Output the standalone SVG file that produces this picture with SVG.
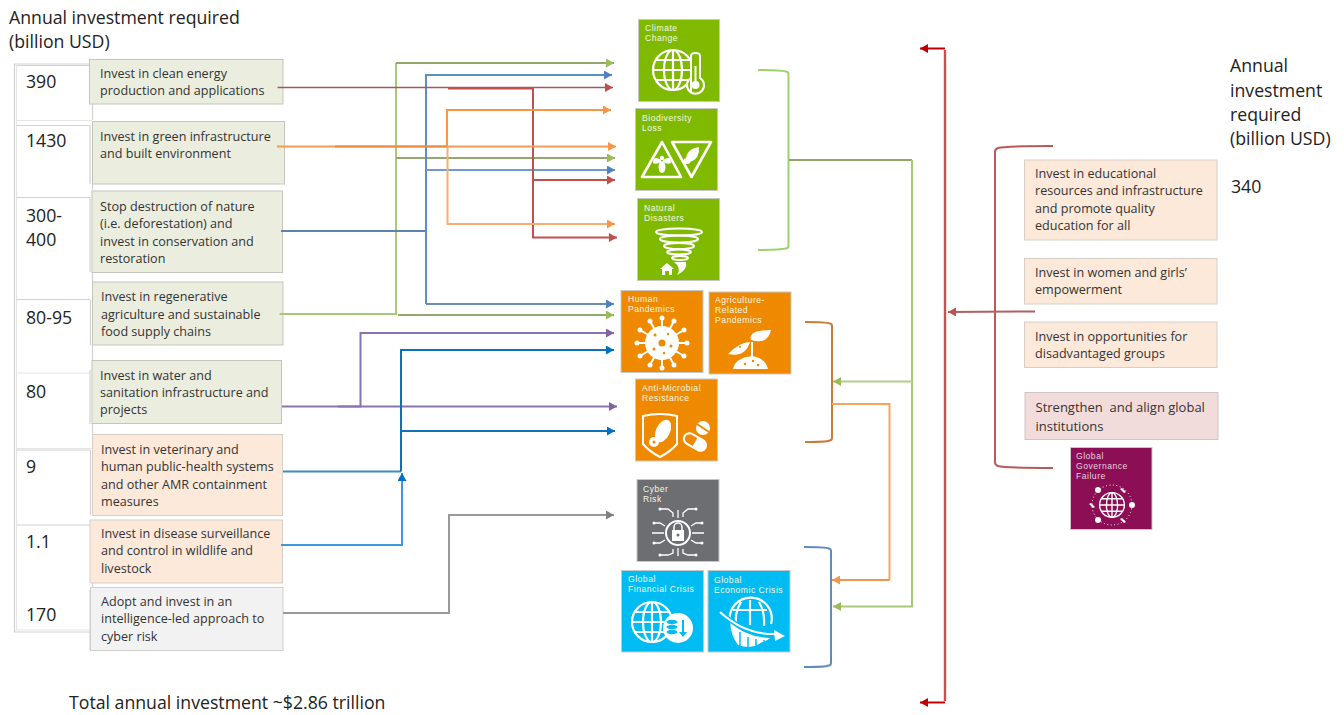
<svg xmlns="http://www.w3.org/2000/svg" width="1344" height="715" viewBox="0 0 1344 715">
<style>
text{font-family:"Open Sans","Liberation Sans",sans-serif;fill:#333}
.h{font-size:17.7px;fill:#222}
.n{font-size:17.7px;fill:#222}
.b{font-size:12.6px;fill:#333}
.g{fill:#EBEEDF;stroke:#c4c6bc;stroke-width:1}
.o{fill:#FDE9DA;stroke:#d6cfc8;stroke-width:1}
.p{fill:#F2DCDB;stroke:#cfc4c4;stroke-width:1}
.y{fill:#F2F2F2;stroke:#d0d0d0;stroke-width:1}
text.t{font-family:"Liberation Sans",Arial,sans-serif;font-size:8.6px;fill:#f2f8e4;letter-spacing:.5px}
.i{fill:none;stroke:#fff;stroke-width:2}
.w{fill:#fff;stroke:none}
.c{fill:none;stroke-width:2}
.tb{fill:none;stroke:#d2d2d2;stroke-width:1.2}
.tl{fill:none;stroke:#e6e6e6;stroke-width:1.2}
.sq{stroke:#c8c8c8;stroke-width:1}
</style>
<defs>
<marker id="ag" markerUnits="userSpaceOnUse" markerWidth="9" markerHeight="9" refX="8" refY="4.5" orient="auto"><path d="M0 0L8 4.5L0 9Z" fill="#9BBB59"/></marker>
<marker id="ab" markerUnits="userSpaceOnUse" markerWidth="9" markerHeight="9" refX="8" refY="4.5" orient="auto"><path d="M0 0L8 4.5L0 9Z" fill="#4F81BD"/></marker>
<marker id="ar" markerUnits="userSpaceOnUse" markerWidth="9" markerHeight="9" refX="8" refY="4.5" orient="auto"><path d="M0 0L8 4.5L0 9Z" fill="#C0504D"/></marker>
<marker id="ao" markerUnits="userSpaceOnUse" markerWidth="9" markerHeight="9" refX="8" refY="4.5" orient="auto"><path d="M0 0L8 4.5L0 9Z" fill="#F79646"/></marker>
<marker id="ap" markerUnits="userSpaceOnUse" markerWidth="9" markerHeight="9" refX="8" refY="4.5" orient="auto"><path d="M0 0L8 4.5L0 9Z" fill="#8064A2"/></marker>
<marker id="ad" markerUnits="userSpaceOnUse" markerWidth="9" markerHeight="9" refX="8" refY="4.5" orient="auto"><path d="M0 0L8 4.5L0 9Z" fill="#0070C0"/></marker>
<marker id="ay" markerUnits="userSpaceOnUse" markerWidth="9" markerHeight="9" refX="8" refY="4.5" orient="auto"><path d="M0 0L8 4.5L0 9Z" fill="#808080"/></marker>
<marker id="ac" markerUnits="userSpaceOnUse" markerWidth="9" markerHeight="9" refX="8" refY="4.5" orient="auto"><path d="M0 0L8 4.5L0 9Z" fill="#C00000"/></marker>
<g id="globe" fill="none" stroke="#fff" stroke-width="2.200">
<circle r="20"/><ellipse rx="9" ry="20"/><path d="M0-20V20M-20 0H20M-17-10H17M-17 10H17"/>
</g>
</defs>

<g id="headers">
<text class="h" x="9" y="24">Annual investment required</text>
<text class="h" x="9" y="48">(billion USD)</text>
<text class="h" x="1230" y="72">Annual</text>
<text class="h" x="1230" y="97">investment</text>
<text class="h" x="1230" y="121">required</text>
<text class="h" x="1230" y="145">(billion USD)</text>
<text class="h" x="1231" y="193">340</text>
<text class="h" x="69" y="709">Total annual investment ~$2.86 trillion</text>
</g>

<g id="table">
<path class="tb" d="M90 64H14.500V632H90"/>
<path class="tl" d="M16.500 66V630H90M16.500 120.500H92M16.500 373H90M16.500 448.500H92"/>
<path class="tb" d="M16.500 65.500H90M16.500 125.500H90M16.500 197.500H90M16.500 299.500H90M16.500 450H90M16.500 525H90"/>
<path class="tb" d="M90 65V104M90 125V184M90 197V272M90.500 300V345M90 370V424M90.500 450V515M90 590V650M92.500 104V120M92.500 184V190M92.500 272V282M92.500 345V360M92.500 424V434M92.500 583V587"/>
<text class="n" x="26" y="88">390</text>
<text class="n" x="26" y="147">1430</text>
<text class="n" x="26" y="222">300-</text>
<text class="n" x="26" y="246">400</text>
<text class="n" x="26" y="324">80-95</text>
<text class="n" x="26" y="398">80</text>
<text class="n" x="26" y="473">9</text>
<text class="n" x="26" y="548">1.1</text>
<text class="n" x="26" y="621">170</text>
</g>

<g id="box-clean-energy"><rect class="g" x="89.500" y="59.500" width="193.500" height="44.500"/>
<text class="b" x="100" y="78">Invest in clean energy</text><text class="b" x="100" y="95">production and applications</text></g>
<g id="box-green-infra"><rect class="g" x="92.500" y="121.500" width="192" height="62.500"/>
<text class="b" x="100" y="141">Invest in green infrastructure</text><text class="b" x="100" y="158">and built environment</text></g>
<g id="box-nature"><rect class="g" x="92" y="191" width="190.500" height="81.500"/>
<text class="b" x="100" y="211">Stop destruction of nature</text><text class="b" x="100" y="228">(i.e. deforestation) and</text><text class="b" x="100" y="245.500">invest in conservation and</text><text class="b" x="100" y="263">restoration</text></g>
<g id="box-agri"><rect class="g" x="92.500" y="282" width="190.500" height="63"/>
<text class="b" x="101" y="301">Invest in regenerative</text><text class="b" x="101" y="318.500">agriculture and sustainable</text><text class="b" x="101" y="336">food supply chains</text></g>
<g id="box-water"><rect class="g" x="92" y="360.500" width="189.500" height="63"/>
<text class="b" x="100" y="380">Invest in water and</text><text class="b" x="100" y="397">sanitation infrastructure and</text><text class="b" x="100" y="414">projects</text></g>
<g id="box-veterinary"><rect class="o" x="92.500" y="434.500" width="190" height="81"/>
<text class="b" x="101" y="454">Invest in veterinary and</text><text class="b" x="101" y="471">human public-health systems</text><text class="b" x="101" y="488.500">and other AMR containment</text><text class="b" x="101" y="506">measures</text></g>
<g id="box-surveillance"><rect class="o" x="90" y="520" width="192.500" height="63"/>
<text class="b" x="101" y="538">Invest in disease surveillance</text><text class="b" x="101" y="555">and control in wildlife and</text><text class="b" x="101" y="573">livestock</text></g>
<g id="box-cyber"><rect class="y" x="90.500" y="587.500" width="192.500" height="63"/>
<text class="b" x="101" y="606">Adopt and invest in an</text><text class="b" x="101" y="623">intelligence-led approach to</text><text class="b" x="101" y="641">cyber risk</text></g>

<g id="box-education"><rect class="o" x="1024.500" y="160" width="192.500" height="80"/>
<text class="b" x="1035" y="178">Invest in educational</text><text class="b" x="1035" y="195">resources and infrastructure</text><text class="b" x="1035" y="212.500">and promote quality</text><text class="b" x="1035" y="230">education for all</text></g>
<g id="box-women"><rect class="o" x="1024.500" y="258.500" width="192.500" height="45.500"/>
<text class="b" x="1035" y="277">Invest in women and girls’</text><text class="b" x="1035" y="294">empowerment</text></g>
<g id="box-opportunities"><rect class="o" x="1024.500" y="322" width="192.500" height="45.500"/>
<text class="b" x="1035" y="341">Invest in opportunities for</text><text class="b" x="1035" y="358">disadvantaged groups</text></g>
<g id="box-institutions"><rect class="p" x="1025" y="392.500" width="193" height="47"/>
<text class="b" x="1035.500" y="411.500" style="font-size:13px" xml:space="preserve">Strengthen  and align global</text><text class="b" x="1035.500" y="430.500" style="font-size:13px">institutions</text></g>

<g id="connectors">
<path class="c" stroke="#A9C77A" d="M279.500 314H396V63"/>
<path class="c" stroke="#95A66F" d="M396 63H614" marker-end="url(#ag)"/>
<path class="c" stroke="#95A66F" d="M396 158H615" marker-end="url(#ag)"/>
<path class="c" stroke="#95A66F" d="M398 315H614" marker-end="url(#ag)"/>
<path class="c" stroke="#5B82B0" d="M281 231H426"/>
<path class="c" stroke="#5B8FC9" d="M426 304V75H612" marker-end="url(#ab)"/>
<path class="c" stroke="#6F9BD0" d="M426 170H615" marker-end="url(#ab)"/>
<path class="c" stroke="#6A8DB3" d="M426 304H614" marker-end="url(#ab)"/>
<path class="c" stroke="#A85560" style="stroke-width:1.500" d="M277.500 87.500H613" marker-end="url(#ar)"/>
<path class="c" stroke="#C0504D" d="M448 88.500H533V237.500H617" marker-end="url(#ar)"/>
<path class="c" stroke="#C0504D" d="M533 180H615" marker-end="url(#ar)"/>
<path class="c" stroke="#F79C54" d="M277 146.500H616" marker-end="url(#ao)"/>
<path class="c" stroke="#EE8A40" d="M335 146.500H447"/>
<path class="c" stroke="#F79646" d="M447 146V110H611" marker-end="url(#ao)"/>
<path class="c" stroke="#F9AE70" d="M447.500 146V224H615" marker-end="url(#ao)"/>
<path class="c" stroke="#8E75AE" d="M282 406.500H617" marker-end="url(#ap)"/>
<path class="c" stroke="#8C72AD" d="M338 406.500H360.500V333H614" marker-end="url(#ap)"/>
<path class="c" stroke="#3A8CC8" d="M283 471.500H401"/>
<path class="c" stroke="#0F70B8" d="M401 471.500V350H614" marker-end="url(#ad)"/>
<path class="c" stroke="#0F70B8" d="M401 431H615" marker-end="url(#ad)"/>
<path class="c" stroke="#3F9BD8" d="M281 545H402V473" marker-end="url(#ad)"/>
<path class="c" stroke="#999" d="M283 613H449V515H614" marker-end="url(#ay)"/>
<path class="c" stroke="#A0D070" d="M758 70Q780 70 786 71.500Q788.500 72 788.500 74V246Q788.500 248 786 248.500Q780 250 758 250"/>
<path class="c" stroke="#8FA56A" d="M789 160H912"/>
<path class="c" stroke="#A9C77A" d="M912 160V606.500H833" marker-end="url(#ag)"/>
<path class="c" stroke="#B5CC8E" d="M912 381.500H833" marker-end="url(#ag)"/>
<path class="c" stroke="#C77C3C" d="M805 322Q826 322 830 323.500Q832 324 832 326V438Q832 440 830 440.500Q826 442 805 442"/>
<path class="c" stroke="#F9A45C" d="M832 404H889.500V580"/>
<path class="c" stroke="#EE9350" d="M889.500 580H832" marker-end="url(#ao)"/>
<path class="c" stroke="#5F8BC0" d="M804 547Q825 547 829 548.500Q831 549 831 551V663Q831 665 829 665.500Q825 667 804 667"/>
<path class="c" stroke="#C9504F" d="M945 50V701" style="stroke-width:2.400"/>
<path class="c" stroke="#C00000" d="M945 48.500H920" marker-end="url(#ac)"/>
<path class="c" stroke="#C00000" d="M945 702.500H920" marker-end="url(#ac)"/>
<path class="c" stroke="#B95A58" d="M1053 146Q1005 146 998 148Q995 149 995 152V462Q995 465 998 466Q1005 468 1053 468"/>
<path class="c" stroke="#B0605E" d="M1035 311.500L948 312" marker-end="url(#ar)"/>
</g>

<g id="risk-climate"><rect class="sq" x="638.500" y="19.500" width="81" height="82" fill="#7FBA00"/>
<text class="t" x="645" y="31">Climate</text><text class="t" x="645" y="41">Change</text>
<use href="#globe" x="673" y="70"/>
<path d="M691 92V56Q691 53 695.500 53Q700 53 700 56V78A8.500 8.500 0 1 1 691 78" fill="#7FBA00" stroke="#fff" stroke-width="2"/>
<circle class="w" cx="695.500" cy="85" r="4"/><rect class="w" x="694.500" y="66" width="2" height="18"/>
</g>
<g id="risk-biodiversity"><rect class="sq" x="635.500" y="108.500" width="82" height="82" fill="#7FBA00"/>
<text class="t" x="642" y="121">Biodiversity</text><text class="t" x="642" y="131">Loss</text>
<path class="i" style="stroke-width:2.600" d="M662 142L681 177H642Z" stroke-linejoin="round"/>
<path class="i" style="stroke-width:2.600" d="M672 142H711L691.500 177Z" stroke-linejoin="round"/>
<ellipse class="w" cx="662" cy="167" rx="3.500" ry="6"/><circle class="w" cx="662" cy="158" r="2.200"/><path class="w" d="M661 160Q653 155 653 163Q656 165 661 162ZM663 160Q671 155 671 163Q668 165 663 162Z"/>
<path class="w" d="M686 160Q686 149 699 147Q700 159 690 162Z"/><ellipse class="w" cx="687" cy="161" rx="3.500" ry="3"/>
</g>
<g id="risk-natural"><rect class="sq" x="637.500" y="198.500" width="82" height="82" fill="#7FBA00"/>
<text class="t" x="644" y="211">Natural</text><text class="t" x="644" y="221">Disasters</text>
<g class="i"><ellipse cx="679" cy="232" rx="23" ry="3.500"/><ellipse cx="679" cy="239" rx="19" ry="3.500"/><ellipse cx="679" cy="246" rx="15" ry="3"/><ellipse cx="679" cy="252" rx="12" ry="2.500"/><ellipse cx="680" cy="258" rx="8" ry="2"/></g>
<path class="w" d="M674 262L686 262Q688 270 677 275Q682 268 674 262Z"/>
<path class="w" d="M660 269L667 263L674 269H672V275H669V271H665V275H662V269Z"/>
</g>
<g id="risk-human-pandemics"><rect class="sq" x="621" y="290.500" width="82" height="82" fill="#EF8A00"/>
<text class="t" x="628" y="302">Human</text><text class="t" x="628" y="312">Pandemics</text>
<g stroke="#fff" stroke-width="2"><path d="M662 343L662 318M662 343L674 321M662 343L684 330M662 343L687 343M662 343L684 356M662 343L674 365M662 343L662 368M662 343L650 365M662 343L640 356M662 343L637 343M662 343L640 330M662 343L650 321"/></g>
<g class="w"><circle cx="662" cy="343" r="17"/><circle cx="662" cy="318" r="2.500"/><circle cx="674" cy="321" r="2.500"/><circle cx="684" cy="330" r="2.500"/><circle cx="687" cy="343" r="2.500"/><circle cx="684" cy="356" r="2.500"/><circle cx="674" cy="365" r="2.500"/><circle cx="662" cy="368" r="2.500"/><circle cx="650" cy="365" r="2.500"/><circle cx="640" cy="356" r="2.500"/><circle cx="637" cy="343" r="2.500"/><circle cx="640" cy="330" r="2.500"/><circle cx="650" cy="321" r="2.500"/></g>
<g fill="#EF8A00"><circle cx="662" cy="343" r="3.500"/><circle cx="655" cy="335" r="1.500"/><circle cx="668" cy="334" r="1.200"/><circle cx="671" cy="346" r="1.500"/><circle cx="654" cy="349" r="1.500"/><circle cx="664" cy="353" r="1.200"/></g>
</g>
<g id="risk-agri-pandemics"><rect class="sq" x="709" y="292" width="82" height="82" fill="#EF8A00"/>
<text class="t" x="715" y="303">Agriculture-</text><text class="t" x="715" y="313">Related</text><text class="t" x="715" y="323">Pandemics</text>
<path class="w" d="M733 369Q735 358 752 356Q765 358 768 369Z"/>
<path class="i" d="M752 357V342"/>
<path class="w" d="M751 340Q748 330 771 330Q768 345 751 340ZM750 342Q740 342 728 354Q745 358 750 342Z"/>
<g fill="#EF8A00"><circle cx="745" cy="364" r="1.200"/><circle cx="753" cy="361" r="1.200"/><circle cx="758" cy="365" r="1.200"/><circle cx="740" cy="347" r="1"/></g>
</g>
<g id="risk-amr"><rect class="sq" x="635.500" y="379" width="82" height="82" fill="#EF8A00"/>
<text class="t" x="642" y="391">Anti-Microbial</text><text class="t" x="642" y="401">Resistance</text>
<path class="i" d="M643 416Q660 412 677 416V444Q670 452 660 457Q650 452 643 444Z"/>
<ellipse class="w" cx="663" cy="431" rx="7" ry="12" transform="rotate(25 663 431)" stroke="#fff" stroke-width="2" stroke-dasharray="1 1"/>
<circle class="w" cx="654" cy="442" r="5"/><circle cx="654" cy="442" r="1.500" fill="#EF8A00"/>
<g transform="rotate(30 695 442)"><rect class="i" x="683" y="436.500" width="24" height="11" rx="5.500"/><path class="w" d="M695 436.500H701.500A5.500 5.500 0 0 1 701.500 447.500H695Z"/></g>
<circle cx="703" cy="428" r="7" fill="#fff"/><path d="M697 424L709 432" stroke="#EF8A00" stroke-width="2"/>
</g>
<g id="risk-cyber"><rect class="sq" x="637" y="479.500" width="82" height="82" fill="#6D6E71"/>
<text class="t" x="643" y="492">Cyber</text><text class="t" x="643" y="502">Risk</text>
<circle class="i" cx="678" cy="533" r="12"/>
<path class="w" d="M672 530H684V541H672Z"/><path class="i" d="M674 530V527A4 4 0 0 1 682 527V530" style="stroke-width:1.500"/><circle cx="678" cy="535" r="1.500" fill="#6D6E71"/>
<path class="i" d="M678 518V510M673 517V513L668 509H660M683 517V513L688 509H696M665 526L660 523H654M691 526L696 523H702M664 533H652M692 533H704M665 540L660 543H654M691 540L696 543H702M678 548V556M673 549V553L668 555H660M683 549V553L688 555H696" style="stroke-width:1.300"/>
<g class="w"><circle cx="660" cy="509" r="1.500"/><circle cx="696" cy="509" r="1.500"/><circle cx="654" cy="523" r="1.500"/><circle cx="702" cy="523" r="1.500"/><circle cx="654" cy="543" r="1.500"/><circle cx="702" cy="543" r="1.500"/><circle cx="660" cy="555" r="1.500"/><circle cx="696" cy="555" r="1.500"/></g>
</g>
<g id="risk-financial"><rect class="sq" x="621.500" y="570.500" width="82" height="81.500" fill="#00BCF2"/>
<text class="t" x="628" y="582">Global</text><text class="t" x="628" y="592">Financial Crisis</text>
<use href="#globe" x="652" y="622"/>
<circle cx="678" cy="628" r="15" fill="#fff"/>
<g fill="#00BCF2"><ellipse cx="672" cy="622" rx="5.500" ry="2.200"/><ellipse cx="672" cy="627" rx="5.500" ry="2.200"/><ellipse cx="672" cy="632" rx="5.500" ry="2.200"/><path d="M684 620V632H687L683 637L679 632H682V620Z"/></g>
</g>
<g id="risk-economic"><rect class="sq" x="708" y="570.500" width="82" height="81.500" fill="#00BCF2"/>
<text class="t" x="714" y="583">Global</text><text class="t" x="714" y="593">Economic Crisis</text>
<path class="i" style="stroke-width:2.200" d="M730 622A21 21 0 1 1 771 624M750 600V625M741 602Q735 612 736 622M759 602Q765 612 764 626M733 610H767"/>
<path class="w" d="M730 622Q745 637 770 638Q764 643 762 642Q752 650 738 645Q731 636 730 622Z"/>
<path d="M740 632V648M748 637V650M756 639V650M764 640V646" stroke="#00BCF2" stroke-width="1.500"/>
<path d="M720 612Q745 635 776 634" fill="none" stroke="#00BCF2" stroke-width="5"/>
<path d="M720 612Q745 635 776 634" fill="none" stroke="#fff" stroke-width="2"/>
<path class="w" d="M774 630L785 636L775 641Z"/>
</g>
<g id="risk-governance"><rect class="sq" x="1070.500" y="447.500" width="81.500" height="82" fill="#8C0E55"/>
<text class="t" x="1076" y="459" style="fill:#e8cfe0">Global</text><text class="t" x="1076" y="469" style="fill:#e8cfe0">Governance</text><text class="t" x="1076" y="479" style="fill:#e8cfe0">Failure</text>
<use href="#globe" transform="translate(1112 505) scale(.62)"/>
<circle cx="1112" cy="505" r="20" fill="none" stroke="#fff" stroke-width="1" stroke-dasharray="1 2.500"/>
<g class="w"><circle cx="1098" cy="490" r="3"/><circle cx="1132" cy="505" r="3"/><circle cx="1098" cy="520" r="3"/><path d="M1122 488l4 4-2 1-4-4zM1091 503l4 4-2 1-4-4zM1122 518l4 4-2 1-4-4z"/></g>
</g>
</svg>
